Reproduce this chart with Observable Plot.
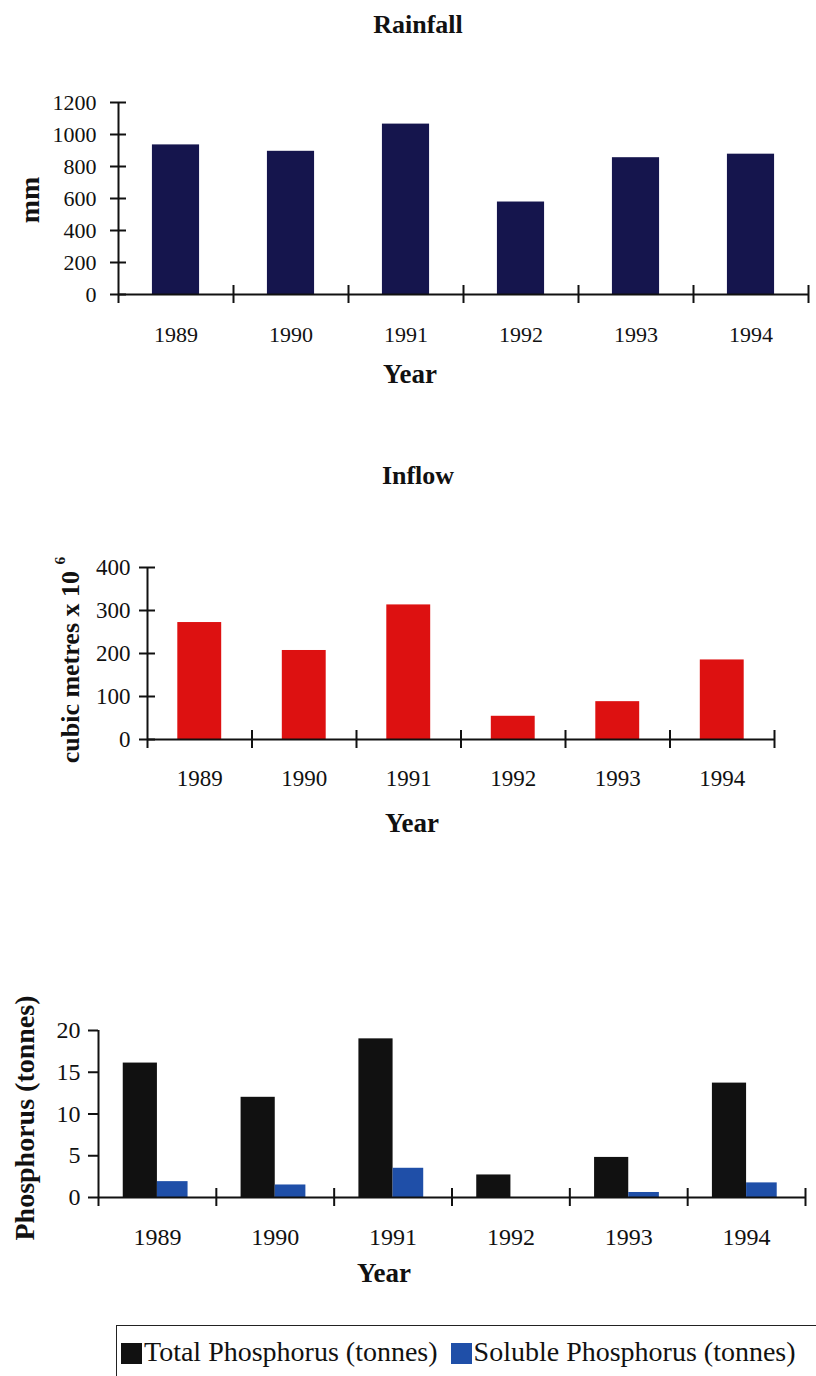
<!DOCTYPE html>
<html><head><meta charset="utf-8">
<script src="https://cdn.jsdelivr.net/npm/d3@7"></script>
<script src="https://cdn.jsdelivr.net/npm/@observablehq/plot@0.6"></script>
<style>
body{margin:0;background:#fff;font-family:"Liberation Serif","Times New Roman",serif;color:#111;}
#page{position:relative;width:816px;height:1376px;overflow:hidden;background:#fff;}
.abs{position:absolute;}
.ctr{transform:translate(-50%,-50%);white-space:nowrap;font-weight:bold;line-height:1;}
.rot{transform:translate(-50%,-50%) rotate(-90deg);white-space:nowrap;font-weight:bold;line-height:1;}
svg{position:absolute;left:0;overflow:visible;}
svg text{font-family:"Liberation Serif","Times New Roman",serif !important;}
</style></head><body><div id="page"></div>
<script>
// ---- data ----
const years = [1989, 1990, 1991, 1992, 1993, 1994];
const rainfall = [935, 895, 1065, 578, 855, 877];
const inflow = [272, 207, 313, 54, 88, 185];
const totalP = [16.1, 12.0, 19.0, 2.7, 4.8, 13.7];
const solubleP = [1.9, 1.5, 3.5, 0, 0.6, 1.75];
const rainTicks = [0, 200, 400, 600, 800, 1000, 1200];
const inflowTicks = [0, 100, 200, 300, 400];
const phosTicks = [0, 5, 10, 15, 20];
const seriesNames = ["Total Phosphorus (tonnes)", "Soluble Phosphorus (tonnes)"];
const seriesColors = ["#111111", "#1f4fa8"];

const boundaries = [years[0] - 0.5, ...years.map(y => y + 0.5)];
const x0 = boundaries[0], x1 = boundaries[boundaries.length - 1];
const page = document.getElementById("page");
const ink = "#111";
const serif = "Liberation Serif";

function chart({top, height, mL, mR, mT, mB, yMax, yTicks, bars, fontSize, tickL, tickR, labelGap, labelDy}) {
  const marks = [];
  for (const b of bars) {
    marks.push(Plot.rectY(years.map((y, i) => ({year: y, v: b.values[i]})), {
      x1: d => d.year + b.o1, x2: d => d.year + b.o2, y1: () => 0, y2: d => d.v, fill: b.color
    }));
  }
  marks.push(
    Plot.ruleY([0], {x1: () => x0, x2: () => x1, stroke: ink, strokeWidth: 2}),
    Plot.ruleX([x0], {y1: () => yMax, y2: () => 0, insetBottom: -9, stroke: ink, strokeWidth: 2}),
    Plot.ruleY(yTicks, {y: d => d, x1: () => x0, x2: () => x0, insetLeft: -tickL, insetRight: -tickR, stroke: ink, strokeWidth: 2}),
    Plot.ruleX(boundaries.slice(1), {x: d => d, y1: () => 0, y2: () => 0, insetTop: -9, insetBottom: -9, stroke: ink, strokeWidth: 2}),
    Plot.text(yTicks, {x: () => x0, y: d => d, dx: -labelGap, textAnchor: "end", text: d => String(d), fontSize, fontFamily: serif, fill: ink}),
    Plot.text(years, {x: d => d, y: () => 0, dy: labelDy, text: d => String(d), fontSize, fontFamily: serif, fill: ink})
  );
  const svg = Plot.plot({
    width: 816, height,
    marginLeft: mL, marginRight: mR, marginTop: mT, marginBottom: mB,
    x: {domain: [x0, x1], axis: null},
    y: {domain: [0, yMax], axis: null},
    style: {fontFamily: serif, background: "transparent", overflow: "visible"},
    marks
  });
  svg.style.top = top + "px";
  page.appendChild(svg);
}

function label(text, x, y, size, cls, html) {
  const d = document.createElement("div");
  d.className = "abs " + cls;
  d.style.left = x + "px"; d.style.top = y + "px"; d.style.fontSize = size + "px";
  if (html) d.innerHTML = text; else d.textContent = text;
  page.appendChild(d);
  return d;
}

// Chart 1: Rainfall
chart({top: 80, height: 280, mL: 118, mR: 8, mT: 22, mB: 66, yMax: 1200, yTicks: rainTicks,
  bars: [{values: rainfall, o1: -0.205, o2: 0.205, color: "#15154d"}],
  fontSize: 22, tickL: 8, tickR: 8, labelGap: 22, labelDy: 40});
label("Rainfall", 418, 25, 26, "ctr");
label("mm", 30, 200, 28, "rot");
label("Year", 410, 374, 27, "ctr");

// Chart 2: Inflow
chart({top: 540, height: 270, mL: 147, mR: 42, mT: 27, mB: 71, yMax: 400, yTicks: inflowTicks,
  bars: [{values: inflow, o1: -0.21, o2: 0.21, color: "#dd1111"}],
  fontSize: 23, tickL: 8, tickR: 8, labelGap: 17, labelDy: 39});
label("Inflow", 418, 476, 26, "ctr");
label("cubic metres x 10 <sup style='font-size:0.6em;vertical-align:0.9em'>6</sup>", 68, 660, 26, "rot", true);
label("Year", 412, 823, 27, "ctr");

// Chart 3: Phosphorus
chart({top: 1010, height: 250, mL: 98, mR: 11, mT: 20, mB: 63, yMax: 20, yTicks: phosTicks,
  bars: [{values: totalP, o1: -0.29, o2: 0, color: seriesColors[0]},
         {values: solubleP, o1: 0, o2: 0.26, color: seriesColors[1]}],
  fontSize: 24, tickL: 10, tickR: 0, labelGap: 18, labelDy: 40});
label("Phosphorus (tonnes)", 25, 1118, 28, "rot");
label("Year", 384, 1273, 27, "ctr");

// Legend
const leg = document.createElement("div");
leg.className = "abs";
Object.assign(leg.style, {left: "116px", top: "1325px", width: "720px", height: "60px",
  borderTop: "1.5px solid #222", borderLeft: "1.5px solid #222", display: "flex", alignItems: "center",
  paddingLeft: "4px", paddingBottom: "8px", boxSizing: "border-box", fontSize: "28px", whiteSpace: "nowrap"});
seriesNames.forEach((n, i) => {
  const sw = document.createElement("span");
  Object.assign(sw.style, {display: "inline-block", width: "21px", height: "21px", background: seriesColors[i],
    marginRight: "2px", marginLeft: i ? "13px" : "0px", marginTop: "4px"});
  const t = document.createElement("span");
  t.textContent = n;
  leg.appendChild(sw); leg.appendChild(t);
});
page.appendChild(leg);
</script>
</body></html>
